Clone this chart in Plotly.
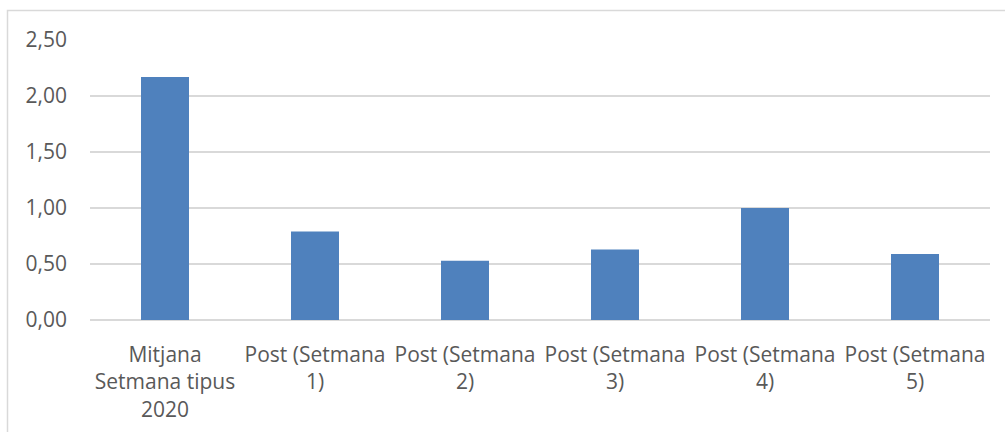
import plotly.graph_objects as go

# Data
categories = [
    "Mitjana<br>Setmana tipus<br>2020",
    "Post (Setmana<br>1)",
    "Post (Setmana<br>2)",
    "Post (Setmana<br>3)",
    "Post (Setmana<br>4)",
    "Post (Setmana<br>5)",
]
values = [2.17, 0.79, 0.53, 0.63, 1.00, 0.59]
y_ticks = [0, 0.5, 1.0, 1.5, 2.0, 2.5]
y_tick_labels = ["0,00", "0,50", "1,00", "1,50", "2,00", "2,50"]

W, H = 1005, 432
ML, MR, MT, MB = 90, 15, 40, 112
pw, ph = W - ML - MR, H - MT - MB


def px_x(x):
    return (x - ML) / pw


def px_y(y):
    return (H - MB - y) / ph


fig = go.Figure(
    go.Bar(
        x=categories,
        y=values,
        marker=dict(color="#4F81BD", line=dict(width=0)),
        hoverinfo="skip",
    )
)

fig.update_layout(
    width=W,
    height=H,
    margin=dict(l=ML, r=MR, t=MT, b=MB),
    bargap=0.68,
    showlegend=False,
    plot_bgcolor="white",
    paper_bgcolor="white",
    font=dict(family="Open Sans, Noto Sans, sans-serif", size=21, color="#595959"),
    # outer chart border
    shapes=[
        dict(
            type="rect",
            xref="paper",
            yref="paper",
            x0=px_x(7.5),
            x1=px_x(1010),
            y0=px_y(445),
            y1=px_y(10.5),
            line=dict(color="#D9D9D9", width=1.5),
            fillcolor="rgba(0,0,0,0)",
            layer="below",
        )
    ],
)

fig.update_xaxes(
    automargin=False,
    showgrid=False,
    showline=False,
    ticks="",
    tickfont=dict(size=21, color="#595959"),
    ticklabelstandoff=20,
)

fig.update_yaxes(
    automargin=False,
    range=[0, 2.5],
    tickvals=y_ticks,
    ticktext=y_tick_labels,
    showgrid=True,
    gridcolor="#D9D9D9",
    gridwidth=1.5,
    zeroline=True,
    zerolinecolor="#D9D9D9",
    zerolinewidth=1.5,
    showline=False,
    ticks="",
    tickfont=dict(size=21, color="#595959"),
    ticklabelstandoff=22,
)

# page has a default body margin; drop it so the figure sits at the window origin
fig.write_html(
    "out.html",
    config={"displayModeBar": False},
    post_script="document.body.style.margin='0';",
)
